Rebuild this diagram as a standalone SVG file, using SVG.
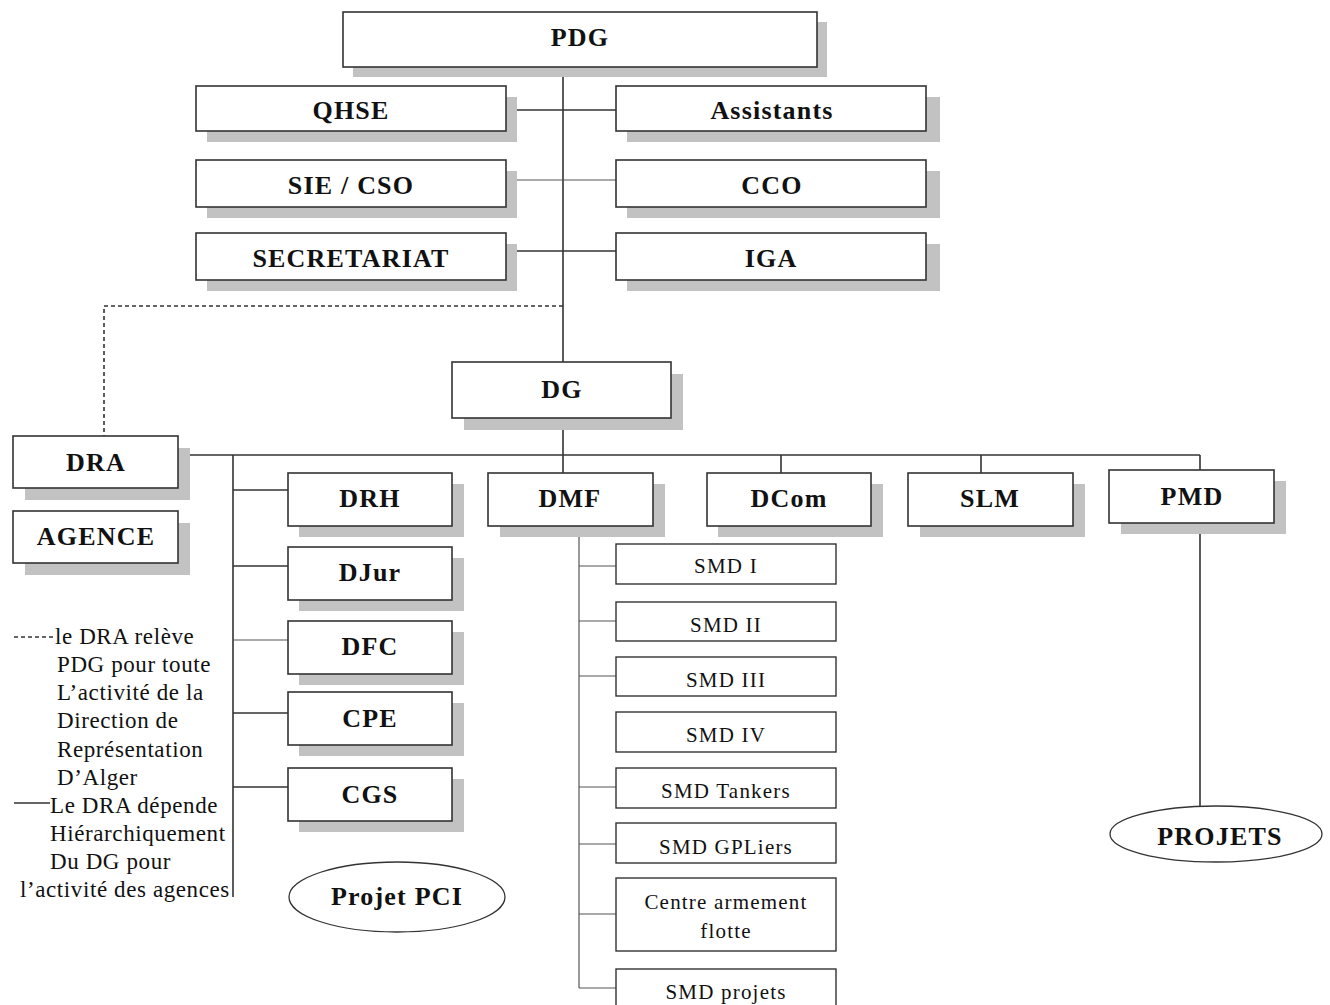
<svg xmlns="http://www.w3.org/2000/svg" width="1330" height="1005" viewBox="0 0 1330 1005">
  <style>
    .shadow { fill: #c2c2c2; }
    .box { fill: #ffffff; stroke: #333333; stroke-width: 1.6; }
    .sbox { fill: #ffffff; stroke: #333333; stroke-width: 1.4; }
    .lbl { font-family: "Liberation Serif", "Times New Roman", serif; font-weight: bold; font-size: 26px; letter-spacing: 1.2px; fill: #111111; text-anchor: middle; }
    .slbl { font-family: "Liberation Serif", "Times New Roman", serif; font-size: 21px; letter-spacing: 1.2px; fill: #111111; text-anchor: middle; }
    .note { font-family: "Liberation Serif", "Times New Roman", serif; font-size: 23px; letter-spacing: 0.6px; fill: #111111; }
    .ln { stroke: #333333; stroke-width: 1.6; fill: none; }
    .lnthin { stroke: #555555; stroke-width: 1.2; fill: none; }
    .dash { stroke: #333333; stroke-width: 1.6; stroke-dasharray: 4 3; fill: none; }
    .ell { fill: #ffffff; stroke: #333333; stroke-width: 1.3; }
  </style>

  <rect width="1330" height="1005" fill="#ffffff"/>

  <!-- connectors -->
  <g id="connectors">
    <!-- PDG spine down to DG -->
    <line class="ln" x1="563" y1="67" x2="563" y2="362"/>
    <line class="ln" x1="506" y1="110" x2="616" y2="110"/>
    <line class="lnthin" x1="506" y1="180" x2="616" y2="180"/>
    <line class="ln" x1="506" y1="251" x2="616" y2="251"/>
    <!-- dotted link PDG to DRA -->
    <polyline class="dash" points="563,306 104,306 104,436"/>
    <!-- DG down to main bar -->
    <line class="ln" x1="563" y1="418" x2="563" y2="455"/>
    <line class="ln" x1="178" y1="455" x2="1200" y2="455"/>
    <!-- left staff branch -->
    <line class="ln" x1="233" y1="455" x2="233" y2="897"/>
    <line class="ln" x1="233" y1="490" x2="288" y2="490"/>
    <line class="ln" x1="233" y1="566" x2="288" y2="566"/>
    <line class="lnthin" x1="233" y1="640" x2="288" y2="640"/>
    <line class="ln" x1="233" y1="713" x2="288" y2="713"/>
    <line class="ln" x1="233" y1="787" x2="288" y2="787"/>
    <!-- drops to directions -->
    <line class="ln" x1="563" y1="455" x2="563" y2="473"/>
    <line class="ln" x1="781" y1="455" x2="781" y2="473"/>
    <line class="ln" x1="981" y1="455" x2="981" y2="473"/>
    <line class="ln" x1="1200" y1="455" x2="1200" y2="470"/>
    <!-- PMD to PROJETS -->
    <line class="ln" x1="1200" y1="523" x2="1200" y2="806"/>
    <!-- DMF sub-units -->
    <line class="lnthin" x1="579" y1="526" x2="579" y2="988"/>
    <line class="lnthin" x1="579" y1="566" x2="616" y2="566"/>
    <line class="lnthin" x1="579" y1="621" x2="616" y2="621"/>
    <line class="lnthin" x1="579" y1="676" x2="616" y2="676"/>
    <line class="lnthin" x1="579" y1="787" x2="616" y2="787"/>
    <line class="lnthin" x1="579" y1="844" x2="616" y2="844"/>
    <line class="lnthin" x1="579" y1="914" x2="616" y2="914"/>
    <line class="lnthin" x1="579" y1="988" x2="616" y2="988"/>
  </g>

  <!-- top level -->
  <g id="pdg">
    <rect class="shadow" x="353" y="22" width="474" height="55"/>
    <rect class="box" x="343" y="12" width="474" height="55"/>
    <text class="lbl" x="580" y="46">PDG</text>
  </g>
  <g id="qhse">
    <rect class="shadow" x="207" y="97" width="310" height="45"/>
    <rect class="box" x="196" y="86" width="310" height="45"/>
    <text class="lbl" x="351" y="119">QHSE</text>
  </g>
  <g id="assistants">
    <rect class="shadow" x="627" y="97" width="313" height="45"/>
    <rect class="box" x="616" y="86" width="310" height="45"/>
    <text class="lbl" x="772" y="119">Assistants</text>
  </g>
  <g id="sie-cso">
    <rect class="shadow" x="207" y="171" width="310" height="47"/>
    <rect class="box" x="196" y="160" width="310" height="47"/>
    <text class="lbl" x="351" y="194">SIE / CSO</text>
  </g>
  <g id="cco">
    <rect class="shadow" x="627" y="171" width="313" height="47"/>
    <rect class="box" x="616" y="160" width="310" height="47"/>
    <text class="lbl" x="772" y="194">CCO</text>
  </g>
  <g id="secretariat">
    <rect class="shadow" x="207" y="244" width="310" height="47"/>
    <rect class="box" x="196" y="233" width="310" height="47"/>
    <text class="lbl" x="351" y="267">SECRETARIAT</text>
  </g>
  <g id="iga">
    <rect class="shadow" x="627" y="244" width="313" height="47"/>
    <rect class="box" x="616" y="233" width="310" height="47"/>
    <text class="lbl" x="771" y="267">IGA</text>
  </g>

  <g id="dg">
    <rect class="shadow" x="464" y="374" width="219" height="56"/>
    <rect class="box" x="452" y="362" width="219" height="56"/>
    <text class="lbl" x="562" y="398">DG</text>
  </g>

  <!-- left column -->
  <g id="dra">
    <rect class="shadow" x="25" y="448" width="165" height="52"/>
    <rect class="box" x="13" y="436" width="165" height="52"/>
    <text class="lbl" x="96" y="471">DRA</text>
  </g>
  <g id="agence">
    <rect class="shadow" x="25" y="523" width="165" height="52"/>
    <rect class="box" x="13" y="511" width="165" height="52"/>
    <text class="lbl" x="96" y="545">AGENCE</text>
  </g>

  <g id="drh">
    <rect class="shadow" x="299" y="484" width="165" height="53"/>
    <rect class="box" x="288" y="473" width="164" height="53"/>
    <text class="lbl" x="370" y="507">DRH</text>
  </g>
  <g id="djur">
    <rect class="shadow" x="299" y="558" width="165" height="53"/>
    <rect class="box" x="288" y="547" width="164" height="53"/>
    <text class="lbl" x="370" y="581">DJur</text>
  </g>
  <g id="dfc">
    <rect class="shadow" x="299" y="632" width="165" height="53"/>
    <rect class="box" x="288" y="621" width="164" height="53"/>
    <text class="lbl" x="370" y="655">DFC</text>
  </g>
  <g id="cpe">
    <rect class="shadow" x="299" y="703" width="165" height="53"/>
    <rect class="box" x="288" y="692" width="164" height="53"/>
    <text class="lbl" x="370" y="727">CPE</text>
  </g>
  <g id="cgs">
    <rect class="shadow" x="299" y="779" width="165" height="53"/>
    <rect class="box" x="288" y="768" width="164" height="53"/>
    <text class="lbl" x="370" y="803">CGS</text>
  </g>

  <g id="project-pci">
    <ellipse class="ell" cx="397" cy="897" rx="108" ry="35"/>
    <text class="lbl" x="397" y="905">Projet PCI</text>
  </g>

  <!-- directions row -->
  <g id="dmf">
    <rect class="shadow" x="500" y="484" width="165" height="53"/>
    <rect class="box" x="488" y="473" width="165" height="53"/>
    <text class="lbl" x="570" y="507">DMF</text>
  </g>
  <g id="dcom">
    <rect class="shadow" x="718" y="484" width="165" height="53"/>
    <rect class="box" x="707" y="473" width="164" height="53"/>
    <text class="lbl" x="789" y="507">DCom</text>
  </g>
  <g id="slm">
    <rect class="shadow" x="920" y="484" width="165" height="53"/>
    <rect class="box" x="908" y="473" width="165" height="53"/>
    <text class="lbl" x="990" y="507">SLM</text>
  </g>
  <g id="pmd">
    <rect class="shadow" x="1121" y="481" width="165" height="53"/>
    <rect class="box" x="1109" y="470" width="165" height="53"/>
    <text class="lbl" x="1192" y="505">PMD</text>
  </g>

  <g id="projets">
    <ellipse class="ell" cx="1216" cy="834" rx="106" ry="28"/>
    <text class="lbl" x="1220" y="845">PROJETS</text>
  </g>

  <!-- DMF sub-units -->
  <g id="smd-1">
    <rect class="sbox" x="616" y="544" width="220" height="40"/>
    <text class="slbl" x="726" y="573">SMD I</text>
  </g>
  <g id="smd-2">
    <rect class="sbox" x="616" y="602" width="220" height="39"/>
    <text class="slbl" x="726" y="632">SMD II</text>
  </g>
  <g id="smd-3">
    <rect class="sbox" x="616" y="657" width="220" height="39"/>
    <text class="slbl" x="726" y="687">SMD III</text>
  </g>
  <g id="smd-4">
    <rect class="sbox" x="616" y="712" width="220" height="40"/>
    <text class="slbl" x="726" y="742">SMD IV</text>
  </g>
  <g id="smd-tankers">
    <rect class="sbox" x="616" y="768" width="220" height="40"/>
    <text class="slbl" x="726" y="798">SMD Tankers</text>
  </g>
  <g id="smd-gpliers">
    <rect class="sbox" x="616" y="823" width="220" height="40"/>
    <text class="slbl" x="726" y="854">SMD GPLiers</text>
  </g>
  <g id="centre-armement">
    <rect class="sbox" x="616" y="878" width="220" height="73"/>
    <text class="slbl" x="726" y="909">Centre armement</text>
    <text class="slbl" x="726" y="938">flotte</text>
  </g>
  <g id="smd-projets">
    <rect class="sbox" x="616" y="969" width="220" height="50"/>
    <text class="slbl" x="726" y="999">SMD projets</text>
  </g>

  <!-- legend -->
  <g id="legend">
    <line class="dash" x1="14" y1="637" x2="54" y2="637"/>
    <text class="note" x="55" y="644">le DRA relève</text>
    <text class="note" x="57" y="672">PDG pour toute</text>
    <text class="note" x="57" y="700">L’activité de la</text>
    <text class="note" x="57" y="728">Direction de</text>
    <text class="note" x="57" y="757">Représentation</text>
    <text class="note" x="57" y="785">D’Alger</text>
    <line class="ln" x1="14" y1="803" x2="50" y2="803"/>
    <text class="note" x="50" y="813">Le DRA dépende</text>
    <text class="note" x="50" y="841">Hiérarchiquement</text>
    <text class="note" x="50" y="869">Du DG pour</text>
    <text class="note" x="20" y="897">l’activité des agences</text>
  </g>
</svg>
